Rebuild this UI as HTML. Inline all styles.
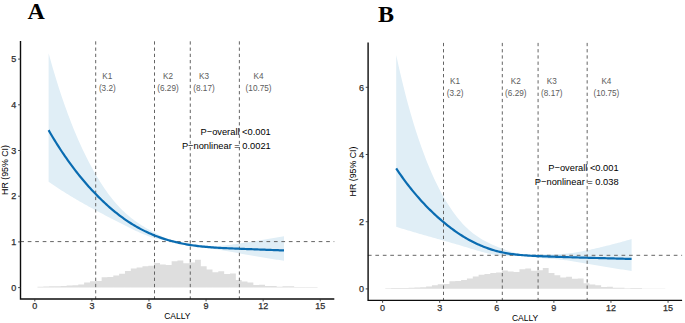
<!DOCTYPE html>
<html><head><meta charset="utf-8"><style>
html,body{margin:0;padding:0;background:#fff;}
svg{display:block;}
text{font-family:"Liberation Sans",sans-serif;}
.tl{font-size:9.0px;fill:#2e2e2e;stroke:#2e2e2e;stroke-width:0.25px;}
.at{font-size:8.5px;fill:#000;}
.kl{font-size:8.2px;fill:#5c5c5c;}
.yt{font-size:8.8px;fill:#000;}
.pt{font-size:9.3px;fill:#000;}
.lt{font-family:"Liberation Serif",serif;font-weight:bold;font-size:24px;fill:#000;}
</style></head><body>
<svg width="685" height="323" viewBox="0 0 685 323">
<rect width="685" height="323" fill="#fff"/>
<path d="M37.44 287.40h5.835v-0.70h-5.835zM43.28 287.40h5.835v-1.00h-5.835zM49.11 287.40h5.835v-1.10h-5.835zM54.95 287.40h5.835v-1.20h-5.835zM60.78 287.40h5.835v-1.30h-5.835zM66.62 287.40h5.835v-1.90h-5.835zM72.45 287.40h5.835v-2.20h-5.835zM78.29 287.40h5.835v-3.00h-5.835zM84.12 287.40h5.835v-4.90h-5.835zM89.96 287.40h5.835v-6.20h-5.835zM95.79 287.40h5.835v-6.30h-5.835zM101.63 287.40h5.835v-10.20h-5.835zM107.46 287.40h5.835v-10.50h-5.835zM113.30 287.40h5.835v-11.80h-5.835zM119.13 287.40h5.835v-13.70h-5.835zM124.97 287.40h5.835v-16.40h-5.835zM130.81 287.40h5.835v-18.90h-5.835zM136.64 287.40h5.835v-19.90h-5.835zM142.47 287.40h5.835v-21.10h-5.835zM148.31 287.40h5.835v-21.70h-5.835zM154.14 287.40h5.835v-24.40h-5.835zM159.98 287.40h5.835v-23.00h-5.835zM165.81 287.40h5.835v-22.40h-5.835zM171.65 287.40h5.835v-26.10h-5.835zM177.48 287.40h5.835v-27.00h-5.835zM183.32 287.40h5.835v-24.20h-5.835zM189.16 287.40h5.835v-24.80h-5.835zM194.99 287.40h5.835v-27.70h-5.835zM200.82 287.40h5.835v-21.10h-5.835zM206.66 287.40h5.835v-18.00h-5.835zM212.50 287.40h5.835v-15.20h-5.835zM218.33 287.40h5.835v-16.20h-5.835zM224.16 287.40h5.835v-13.40h-5.835zM230.00 287.40h5.835v-13.90h-5.835zM235.83 287.40h5.835v-7.40h-5.835zM241.67 287.40h5.835v-5.90h-5.835zM247.50 287.40h5.835v-4.80h-5.835zM253.34 287.40h5.835v-2.30h-5.835zM259.17 287.40h5.835v-2.60h-5.835zM265.01 287.40h5.835v-1.50h-5.835zM270.85 287.40h5.835v-1.50h-5.835zM276.68 287.40h5.835v-0.70h-5.835zM282.51 287.40h5.835v-1.10h-5.835zM288.35 287.40h5.835v-1.10h-5.835zM294.19 287.40h5.835v-0.40h-5.835zM300.02 287.40h5.835v-0.40h-5.835zM305.86 287.40h5.835v-0.40h-5.835zM311.69 287.40h5.835v-0.40h-5.835z" fill="#dedede"/>
<path d="M48.60 53.19 L50.08 58.55 L51.56 63.78 L53.04 68.88 L54.52 73.87 L56.00 78.75 L57.48 83.51 L58.96 88.16 L60.44 92.71 L61.92 97.15 L63.41 101.48 L64.89 105.72 L66.37 109.86 L67.85 113.90 L69.33 117.84 L70.81 121.70 L72.29 125.46 L73.77 129.14 L75.25 132.73 L76.73 136.24 L78.21 139.66 L79.69 143.01 L81.17 146.27 L82.65 149.46 L84.13 152.57 L85.61 155.61 L87.09 158.58 L88.57 161.48 L90.05 164.30 L91.53 167.06 L93.02 169.75 L94.50 172.38 L95.98 174.94 L97.46 177.44 L98.94 179.87 L100.42 182.24 L101.90 184.55 L103.38 186.79 L104.86 188.97 L106.34 191.09 L107.82 193.14 L109.30 195.14 L110.78 197.07 L112.26 198.94 L113.74 200.74 L115.22 202.49 L116.70 204.19 L118.18 205.82 L119.66 207.40 L121.14 208.92 L122.63 210.39 L124.11 211.81 L125.59 213.17 L127.07 214.49 L128.55 215.76 L130.03 216.98 L131.51 218.17 L132.99 219.31 L134.47 220.41 L135.95 221.48 L137.43 222.51 L138.91 223.52 L140.39 224.49 L141.87 225.43 L143.35 226.35 L144.83 227.25 L146.31 228.13 L147.79 228.98 L149.27 229.82 L150.75 230.64 L152.24 231.45 L153.72 232.24 L155.20 233.02 L156.68 233.79 L158.16 234.55 L159.64 235.29 L161.12 236.01 L162.60 236.72 L164.08 237.42 L165.56 238.09 L167.04 238.75 L168.52 239.39 L170.00 240.01 L171.48 240.61 L172.96 241.19 L174.44 241.75 L175.92 242.03 L177.40 242.21 L178.88 242.38 L180.36 242.55 L181.85 242.72 L183.33 242.88 L184.81 243.05 L186.29 243.22 L187.77 243.39 L189.25 243.56 L190.73 243.74 L192.21 243.92 L193.69 244.11 L195.17 244.30 L196.65 244.49 L198.13 244.68 L199.61 244.87 L201.09 245.05 L202.57 245.23 L204.05 245.40 L205.53 245.55 L207.01 245.69 L208.49 245.80 L209.97 245.89 L211.46 245.96 L212.94 245.99 L214.42 246.00 L215.90 245.98 L217.38 245.94 L218.86 245.88 L220.34 245.79 L221.82 245.69 L223.30 245.57 L224.78 245.43 L226.26 245.28 L227.74 245.12 L229.22 244.94 L230.70 244.76 L232.18 244.57 L233.66 244.37 L235.14 244.16 L236.62 243.95 L238.10 243.74 L239.58 243.52 L241.07 243.30 L242.55 243.08 L244.03 242.85 L245.51 242.63 L246.99 242.40 L248.47 242.17 L249.95 241.93 L251.43 241.70 L252.91 241.46 L254.39 241.23 L255.87 240.99 L257.35 240.75 L258.83 240.50 L260.31 240.26 L261.79 240.02 L263.27 239.77 L264.75 239.52 L266.23 239.27 L267.71 239.02 L269.19 238.77 L270.68 238.51 L272.16 238.26 L273.64 238.00 L275.12 237.74 L276.60 237.48 L278.08 237.22 L279.56 236.96 L281.04 236.69 L282.52 236.43 L284.00 236.16 L284.00 260.76 L282.52 260.54 L281.04 260.32 L279.56 260.09 L278.08 259.87 L276.60 259.64 L275.12 259.41 L273.64 259.18 L272.16 258.95 L270.68 258.71 L269.19 258.48 L267.71 258.24 L266.23 258.00 L264.75 257.75 L263.27 257.51 L261.79 257.27 L260.31 257.02 L258.83 256.77 L257.35 256.52 L255.87 256.26 L254.39 256.01 L252.91 255.75 L251.43 255.49 L249.95 255.23 L248.47 254.97 L246.99 254.71 L245.51 254.44 L244.03 254.18 L242.55 253.91 L241.07 253.64 L239.58 253.37 L238.10 253.09 L236.62 252.82 L235.14 252.55 L233.66 252.27 L232.18 252.00 L230.70 251.73 L229.22 251.46 L227.74 251.19 L226.26 250.92 L224.78 250.66 L223.30 250.40 L221.82 250.15 L220.34 249.90 L218.86 249.66 L217.38 249.43 L215.90 249.22 L214.42 249.01 L212.94 248.82 L211.46 248.65 L209.97 248.49 L208.49 248.34 L207.01 248.20 L205.53 248.07 L204.05 247.94 L202.57 247.81 L201.09 247.68 L199.61 247.53 L198.13 247.37 L196.65 247.20 L195.17 247.01 L193.69 246.80 L192.21 246.56 L190.73 246.31 L189.25 246.02 L187.77 245.71 L186.29 245.37 L184.81 245.00 L183.33 244.61 L181.85 244.20 L180.36 243.76 L178.88 243.29 L177.40 242.80 L175.92 242.29 L174.44 241.85 L172.96 241.66 L171.48 241.46 L170.00 241.25 L168.52 241.03 L167.04 240.79 L165.56 240.54 L164.08 240.28 L162.60 239.99 L161.12 239.69 L159.64 239.37 L158.16 239.02 L156.68 238.65 L155.20 238.25 L153.72 237.83 L152.24 237.38 L150.75 236.91 L149.27 236.40 L147.79 235.88 L146.31 235.33 L144.83 234.75 L143.35 234.16 L141.87 233.55 L140.39 232.91 L138.91 232.26 L137.43 231.59 L135.95 230.91 L134.47 230.22 L132.99 229.51 L131.51 228.79 L130.03 228.06 L128.55 227.33 L127.07 226.59 L125.59 225.84 L124.11 225.09 L122.63 224.34 L121.14 223.58 L119.66 222.82 L118.18 222.06 L116.70 221.29 L115.22 220.53 L113.74 219.76 L112.26 218.99 L110.78 218.22 L109.30 217.45 L107.82 216.68 L106.34 215.91 L104.86 215.13 L103.38 214.35 L101.90 213.58 L100.42 212.79 L98.94 212.01 L97.46 211.22 L95.98 210.43 L94.50 209.63 L93.02 208.83 L91.53 208.03 L90.05 207.22 L88.57 206.40 L87.09 205.58 L85.61 204.76 L84.13 203.93 L82.65 203.09 L81.17 202.25 L79.69 201.40 L78.21 200.55 L76.73 199.68 L75.25 198.81 L73.77 197.94 L72.29 197.06 L70.81 196.17 L69.33 195.27 L67.85 194.36 L66.37 193.45 L64.89 192.53 L63.41 191.60 L61.92 190.66 L60.44 189.72 L58.96 188.77 L57.48 187.80 L56.00 186.83 L54.52 185.86 L53.04 184.87 L51.56 183.87 L50.08 182.87 L48.60 181.85Z" fill="#e0eef6"/>
<path d="M95.70 41.30V299.00M154.50 41.30V299.00M190.28 41.30V299.00M239.37 41.30V299.00" stroke="#646464" stroke-width="1.0" stroke-dasharray="3.3 2.92" fill="none"/>
<path d="M20.30 241.60H334.30" stroke="#646464" stroke-width="1.0" stroke-dasharray="3.7 3.76" fill="none"/>
<path d="M48.60 130.16 L50.08 132.71 L51.56 135.23 L53.04 137.70 L54.52 140.14 L56.00 142.53 L57.48 144.89 L58.96 147.20 L60.44 149.48 L61.92 151.73 L63.41 153.93 L64.89 156.10 L66.37 158.24 L67.85 160.34 L69.33 162.40 L70.81 164.44 L72.29 166.44 L73.77 168.40 L75.25 170.34 L76.73 172.24 L78.21 174.12 L79.69 175.96 L81.17 177.77 L82.65 179.56 L84.13 181.31 L85.61 183.04 L87.09 184.73 L88.57 186.40 L90.05 188.05 L91.53 189.66 L93.02 191.25 L94.50 192.82 L95.98 194.36 L97.46 195.87 L98.94 197.36 L100.42 198.82 L101.90 200.26 L103.38 201.67 L104.86 203.06 L106.34 204.42 L107.82 205.75 L109.30 207.06 L110.78 208.35 L112.26 209.61 L113.74 210.84 L115.22 212.05 L116.70 213.23 L118.18 214.39 L119.66 215.52 L121.14 216.63 L122.63 217.71 L124.11 218.77 L125.59 219.80 L127.07 220.81 L128.55 221.80 L130.03 222.76 L131.51 223.70 L132.99 224.61 L134.47 225.51 L135.95 226.38 L137.43 227.22 L138.91 228.05 L140.39 228.85 L141.87 229.63 L143.35 230.39 L144.83 231.13 L146.31 231.84 L147.79 232.54 L149.27 233.21 L150.75 233.87 L152.24 234.50 L153.72 235.11 L155.20 235.71 L156.68 236.28 L158.16 236.83 L159.64 237.37 L161.12 237.89 L162.60 238.39 L164.08 238.87 L165.56 239.33 L167.04 239.78 L168.52 240.22 L170.00 240.64 L171.48 241.04 L172.96 241.43 L174.44 241.80 L175.92 242.16 L177.40 242.51 L178.88 242.84 L180.36 243.16 L181.85 243.46 L183.33 243.76 L184.81 244.04 L186.29 244.31 L187.77 244.56 L189.25 244.81 L190.73 245.04 L192.21 245.26 L193.69 245.48 L195.17 245.68 L196.65 245.87 L198.13 246.05 L199.61 246.22 L201.09 246.39 L202.57 246.54 L204.05 246.69 L205.53 246.83 L207.01 246.96 L208.49 247.09 L209.97 247.21 L211.46 247.32 L212.94 247.43 L214.42 247.54 L215.90 247.63 L217.38 247.73 L218.86 247.81 L220.34 247.90 L221.82 247.98 L223.30 248.06 L224.78 248.13 L226.26 248.20 L227.74 248.27 L229.22 248.33 L230.70 248.40 L232.18 248.46 L233.66 248.52 L235.14 248.58 L236.62 248.64 L238.10 248.70 L239.58 248.75 L241.07 248.81 L242.55 248.87 L244.03 248.93 L245.51 248.98 L246.99 249.04 L248.47 249.10 L249.95 249.15 L251.43 249.21 L252.91 249.27 L254.39 249.32 L255.87 249.38 L257.35 249.44 L258.83 249.49 L260.31 249.55 L261.79 249.61 L263.27 249.66 L264.75 249.72 L266.23 249.78 L267.71 249.83 L269.19 249.89 L270.68 249.94 L272.16 250.00 L273.64 250.05 L275.12 250.11 L276.60 250.17 L278.08 250.22 L279.56 250.28 L281.04 250.33 L282.52 250.39 L284.00 250.44" stroke="#0a6cb1" stroke-width="2.2" fill="none" stroke-linejoin="round"/>
<path d="M20.50 41.00V299.00M19.80 299.00H334.30" stroke="#0d0d0d" stroke-width="1.4" fill="none"/>
<path d="M18.10 287.60H20.50M18.10 241.90H20.50M18.10 196.20H20.50M18.10 150.50H20.50M18.10 104.80H20.50M18.10 59.10H20.50M34.80 299.00V301.40M91.89 299.00V301.40M148.98 299.00V301.40M206.07 299.00V301.40M263.16 299.00V301.40M320.25 299.00V301.40" stroke="#333333" stroke-width="0.9" fill="none"/>
<text x="16.30" y="290.80" text-anchor="end" class="tl">0</text>
<text x="16.30" y="245.10" text-anchor="end" class="tl">1</text>
<text x="16.30" y="199.40" text-anchor="end" class="tl">2</text>
<text x="16.30" y="153.70" text-anchor="end" class="tl">3</text>
<text x="16.30" y="108.00" text-anchor="end" class="tl">4</text>
<text x="16.30" y="62.30" text-anchor="end" class="tl">5</text>
<text x="34.80" y="309.20" text-anchor="middle" class="tl">0</text>
<text x="91.89" y="309.20" text-anchor="middle" class="tl">3</text>
<text x="148.98" y="309.20" text-anchor="middle" class="tl">6</text>
<text x="206.07" y="309.20" text-anchor="middle" class="tl">9</text>
<text x="263.16" y="309.20" text-anchor="middle" class="tl">12</text>
<text x="320.25" y="309.20" text-anchor="middle" class="tl">15</text>
<text x="177.40" y="319.20" text-anchor="middle" class="at">CALLY</text>
<text transform="translate(8.00 170.00) rotate(-90)" text-anchor="middle" class="yt">HR (95% CI)</text>
<text x="107.30" y="78.80" text-anchor="middle" class="kl">K1</text>
<text x="107.30" y="90.80" text-anchor="middle" class="kl">(3.2)</text>
<text x="168.01" y="78.80" text-anchor="middle" class="kl">K2</text>
<text x="168.01" y="90.80" text-anchor="middle" class="kl">(6.29)</text>
<text x="203.98" y="78.80" text-anchor="middle" class="kl">K3</text>
<text x="203.98" y="90.80" text-anchor="middle" class="kl">(8.17)</text>
<text x="258.59" y="78.80" text-anchor="middle" class="kl">K4</text>
<text x="258.59" y="90.80" text-anchor="middle" class="kl">(10.75)</text>
<text x="270.80" y="135.30" text-anchor="end" class="pt">P−overall &lt;0.001</text>
<text x="270.80" y="148.80" text-anchor="end" class="pt">P−nonlinear = 0.0021</text>
<text x="27.50" y="19.30" class="lt">A</text>
<path d="M385.25 288.80h5.835v-0.52h-5.835zM391.08 288.80h5.835v-0.75h-5.835zM396.92 288.80h5.835v-0.82h-5.835zM402.75 288.80h5.835v-0.90h-5.835zM408.58 288.80h5.835v-0.98h-5.835zM414.42 288.80h5.835v-1.42h-5.835zM420.25 288.80h5.835v-1.65h-5.835zM426.09 288.80h5.835v-2.25h-5.835zM431.93 288.80h5.835v-3.67h-5.835zM437.76 288.80h5.835v-4.65h-5.835zM443.60 288.80h5.835v-4.73h-5.835zM449.43 288.80h5.835v-7.65h-5.835zM455.26 288.80h5.835v-7.88h-5.835zM461.10 288.80h5.835v-8.85h-5.835zM466.94 288.80h5.835v-10.27h-5.835zM472.77 288.80h5.835v-12.30h-5.835zM478.61 288.80h5.835v-14.17h-5.835zM484.44 288.80h5.835v-14.92h-5.835zM490.27 288.80h5.835v-15.82h-5.835zM496.11 288.80h5.835v-16.27h-5.835zM501.94 288.80h5.835v-18.30h-5.835zM507.78 288.80h5.835v-17.25h-5.835zM513.62 288.80h5.835v-16.80h-5.835zM519.45 288.80h5.835v-19.57h-5.835zM525.28 288.80h5.835v-20.25h-5.835zM531.12 288.80h5.835v-18.15h-5.835zM536.96 288.80h5.835v-18.60h-5.835zM542.79 288.80h5.835v-20.77h-5.835zM548.62 288.80h5.835v-15.82h-5.835zM554.46 288.80h5.835v-13.50h-5.835zM560.30 288.80h5.835v-11.40h-5.835zM566.13 288.80h5.835v-12.15h-5.835zM571.97 288.80h5.835v-10.05h-5.835zM577.80 288.80h5.835v-10.42h-5.835zM583.63 288.80h5.835v-5.55h-5.835zM589.47 288.80h5.835v-4.42h-5.835zM595.31 288.80h5.835v-3.60h-5.835zM601.14 288.80h5.835v-1.73h-5.835zM606.98 288.80h5.835v-1.95h-5.835zM612.81 288.80h5.835v-1.12h-5.835zM618.64 288.80h5.835v-1.12h-5.835zM624.48 288.80h5.835v-0.52h-5.835zM630.32 288.80h5.835v-0.82h-5.835zM636.15 288.80h5.835v-0.82h-5.835zM641.99 288.80h5.835v-0.30h-5.835zM647.82 288.80h5.835v-0.30h-5.835zM653.65 288.80h5.835v-0.30h-5.835zM659.49 288.80h5.835v-0.30h-5.835z" fill="#dedede"/>
<path d="M396.20 55.02 L397.68 61.83 L399.16 68.44 L400.64 74.85 L402.12 81.07 L403.60 87.11 L405.08 92.97 L406.56 98.66 L408.04 104.18 L409.52 109.53 L411.01 114.73 L412.49 119.77 L413.97 124.66 L415.45 129.41 L416.93 134.02 L418.41 138.48 L419.89 142.82 L421.37 147.03 L422.85 151.11 L424.33 155.07 L425.81 158.91 L427.29 162.63 L428.77 166.25 L430.25 169.75 L431.73 173.15 L433.21 176.44 L434.69 179.64 L436.17 182.74 L437.65 185.74 L439.13 188.65 L440.62 191.47 L442.10 194.20 L443.58 196.85 L445.06 199.41 L446.54 201.89 L448.02 204.29 L449.50 206.61 L450.98 208.84 L452.46 210.99 L453.94 213.06 L455.42 215.06 L456.90 216.98 L458.38 218.82 L459.86 220.58 L461.34 222.28 L462.82 223.90 L464.30 225.45 L465.78 226.93 L467.26 228.35 L468.74 229.71 L470.23 231.00 L471.71 232.23 L473.19 233.41 L474.67 234.53 L476.15 235.60 L477.63 236.62 L479.11 237.59 L480.59 238.52 L482.07 239.41 L483.55 240.26 L485.03 241.07 L486.51 241.85 L487.99 242.60 L489.47 243.32 L490.95 244.01 L492.43 244.68 L493.91 245.32 L495.39 245.95 L496.87 246.56 L498.35 247.15 L499.84 247.72 L501.32 248.28 L502.80 248.83 L504.28 249.36 L505.76 249.89 L507.24 250.40 L508.72 250.90 L510.20 251.38 L511.68 251.86 L513.16 252.31 L514.64 252.76 L516.12 253.19 L517.60 253.61 L519.08 254.01 L520.56 254.40 L522.04 254.77 L523.52 255.12 L525.00 255.24 L526.48 255.12 L527.96 255.00 L529.45 254.89 L530.93 254.78 L532.41 254.67 L533.89 254.58 L535.37 254.49 L536.85 254.41 L538.33 254.35 L539.81 254.31 L541.29 254.27 L542.77 254.25 L544.25 254.24 L545.73 254.23 L547.21 254.23 L548.69 254.23 L550.17 254.23 L551.65 254.22 L553.13 254.22 L554.61 254.20 L556.09 254.18 L557.57 254.14 L559.06 254.09 L560.54 254.02 L562.02 253.94 L563.50 253.84 L564.98 253.73 L566.46 253.59 L567.94 253.44 L569.42 253.28 L570.90 253.09 L572.38 252.90 L573.86 252.68 L575.34 252.46 L576.82 252.22 L578.30 251.97 L579.78 251.71 L581.26 251.43 L582.74 251.15 L584.22 250.86 L585.70 250.56 L587.18 250.26 L588.67 249.95 L590.15 249.64 L591.63 249.32 L593.11 248.99 L594.59 248.66 L596.07 248.33 L597.55 247.99 L599.03 247.64 L600.51 247.30 L601.99 246.95 L603.47 246.59 L604.95 246.23 L606.43 245.87 L607.91 245.50 L609.39 245.13 L610.87 244.75 L612.35 244.37 L613.83 243.99 L615.31 243.60 L616.79 243.21 L618.28 242.81 L619.76 242.41 L621.24 242.01 L622.72 241.60 L624.20 241.19 L625.68 240.77 L627.16 240.36 L628.64 239.93 L630.12 239.50 L631.60 239.07 L631.60 270.89 L630.12 270.68 L628.64 270.47 L627.16 270.26 L625.68 270.05 L624.20 269.84 L622.72 269.62 L621.24 269.40 L619.76 269.18 L618.28 268.96 L616.79 268.73 L615.31 268.50 L613.83 268.27 L612.35 268.04 L610.87 267.81 L609.39 267.57 L607.91 267.33 L606.43 267.09 L604.95 266.85 L603.47 266.60 L601.99 266.35 L600.51 266.10 L599.03 265.85 L597.55 265.59 L596.07 265.34 L594.59 265.08 L593.11 264.82 L591.63 264.56 L590.15 264.29 L588.67 264.03 L587.18 263.77 L585.70 263.50 L584.22 263.23 L582.74 262.97 L581.26 262.70 L579.78 262.44 L578.30 262.18 L576.82 261.93 L575.34 261.68 L573.86 261.43 L572.38 261.19 L570.90 260.96 L569.42 260.74 L567.94 260.53 L566.46 260.33 L564.98 260.14 L563.50 259.96 L562.02 259.79 L560.54 259.63 L559.06 259.48 L557.57 259.35 L556.09 259.22 L554.61 259.11 L553.13 258.99 L551.65 258.89 L550.17 258.78 L548.69 258.68 L547.21 258.57 L545.73 258.45 L544.25 258.33 L542.77 258.21 L541.29 258.07 L539.81 257.91 L538.33 257.75 L536.85 257.56 L535.37 257.36 L533.89 257.14 L532.41 256.90 L530.93 256.65 L529.45 256.38 L527.96 256.09 L526.48 255.78 L525.00 255.46 L523.52 255.36 L522.04 255.48 L520.56 255.59 L519.08 255.69 L517.60 255.78 L516.12 255.87 L514.64 255.94 L513.16 255.99 L511.68 256.03 L510.20 256.05 L508.72 256.05 L507.24 256.03 L505.76 255.99 L504.28 255.92 L502.80 255.82 L501.32 255.69 L499.84 255.54 L498.35 255.36 L496.87 255.15 L495.39 254.92 L493.91 254.66 L492.43 254.38 L490.95 254.08 L489.47 253.76 L487.99 253.42 L486.51 253.06 L485.03 252.69 L483.55 252.30 L482.07 251.90 L480.59 251.49 L479.11 251.07 L477.63 250.65 L476.15 250.21 L474.67 249.77 L473.19 249.33 L471.71 248.89 L470.23 248.44 L468.74 247.99 L467.26 247.54 L465.78 247.09 L464.30 246.64 L462.82 246.20 L461.34 245.75 L459.86 245.31 L458.38 244.87 L456.90 244.43 L455.42 244.00 L453.94 243.56 L452.46 243.13 L450.98 242.70 L449.50 242.28 L448.02 241.85 L446.54 241.43 L445.06 241.01 L443.58 240.59 L442.10 240.17 L440.62 239.75 L439.13 239.33 L437.65 238.92 L436.17 238.50 L434.69 238.09 L433.21 237.67 L431.73 237.26 L430.25 236.84 L428.77 236.42 L427.29 236.00 L425.81 235.58 L424.33 235.16 L422.85 234.74 L421.37 234.32 L419.89 233.89 L418.41 233.47 L416.93 233.04 L415.45 232.61 L413.97 232.18 L412.49 231.74 L411.01 231.31 L409.52 230.87 L408.04 230.43 L406.56 229.99 L405.08 229.54 L403.60 229.10 L402.12 228.65 L400.64 228.20 L399.16 227.74 L397.68 227.28 L396.20 226.83Z" fill="#e0eef6"/>
<path d="M443.50 42.90V300.40M502.30 42.90V300.40M538.08 42.90V300.40M587.17 42.90V300.40" stroke="#646464" stroke-width="1.0" stroke-dasharray="3.3 2.92" fill="none"/>
<path d="M367.90 255.30H682.10" stroke="#646464" stroke-width="1.0" stroke-dasharray="3.7 3.76" fill="none"/>
<path d="M396.20 168.41 L397.68 170.62 L399.16 172.78 L400.64 174.91 L402.12 177.00 L403.60 179.05 L405.08 181.06 L406.56 183.04 L408.04 184.97 L409.52 186.88 L411.01 188.75 L412.49 190.58 L413.97 192.38 L415.45 194.15 L416.93 195.88 L418.41 197.59 L419.89 199.26 L421.37 200.90 L422.85 202.51 L424.33 204.10 L425.81 205.65 L427.29 207.17 L428.77 208.67 L430.25 210.14 L431.73 211.58 L433.21 213.00 L434.69 214.39 L436.17 215.75 L437.65 217.09 L439.13 218.41 L440.62 219.70 L442.10 220.97 L443.58 222.21 L445.06 223.43 L446.54 224.63 L448.02 225.81 L449.50 226.96 L450.98 228.08 L452.46 229.19 L453.94 230.26 L455.42 231.32 L456.90 232.35 L458.38 233.35 L459.86 234.33 L461.34 235.28 L462.82 236.21 L464.30 237.12 L465.78 238.00 L467.26 238.86 L468.74 239.69 L470.23 240.50 L471.71 241.28 L473.19 242.04 L474.67 242.78 L476.15 243.49 L477.63 244.18 L479.11 244.85 L480.59 245.49 L482.07 246.11 L483.55 246.71 L485.03 247.28 L486.51 247.84 L487.99 248.37 L489.47 248.88 L490.95 249.36 L492.43 249.83 L493.91 250.27 L495.39 250.69 L496.87 251.10 L498.35 251.48 L499.84 251.84 L501.32 252.17 L502.80 252.49 L504.28 252.79 L505.76 253.07 L507.24 253.33 L508.72 253.57 L510.20 253.79 L511.68 254.01 L513.16 254.20 L514.64 254.38 L516.12 254.55 L517.60 254.71 L519.08 254.86 L520.56 255.00 L522.04 255.12 L523.52 255.24 L525.00 255.35 L526.48 255.46 L527.96 255.55 L529.45 255.64 L530.93 255.73 L532.41 255.81 L533.89 255.88 L535.37 255.96 L536.85 256.03 L538.33 256.09 L539.81 256.16 L541.29 256.22 L542.77 256.29 L544.25 256.35 L545.73 256.41 L547.21 256.47 L548.69 256.53 L550.17 256.58 L551.65 256.64 L553.13 256.69 L554.61 256.75 L556.09 256.80 L557.57 256.85 L559.06 256.90 L560.54 256.95 L562.02 257.00 L563.50 257.05 L564.98 257.09 L566.46 257.14 L567.94 257.18 L569.42 257.23 L570.90 257.27 L572.38 257.32 L573.86 257.36 L575.34 257.40 L576.82 257.45 L578.30 257.49 L579.78 257.53 L581.26 257.57 L582.74 257.61 L584.22 257.65 L585.70 257.70 L587.18 257.74 L588.67 257.78 L590.15 257.82 L591.63 257.86 L593.11 257.90 L594.59 257.94 L596.07 257.98 L597.55 258.02 L599.03 258.06 L600.51 258.10 L601.99 258.14 L603.47 258.18 L604.95 258.22 L606.43 258.26 L607.91 258.30 L609.39 258.34 L610.87 258.38 L612.35 258.42 L613.83 258.46 L615.31 258.50 L616.79 258.54 L618.28 258.58 L619.76 258.62 L621.24 258.66 L622.72 258.70 L624.20 258.74 L625.68 258.78 L627.16 258.82 L628.64 258.86 L630.12 258.90 L631.60 258.94" stroke="#0a6cb1" stroke-width="2.2" fill="none" stroke-linejoin="round"/>
<path d="M368.10 42.60V300.40M367.40 300.40H682.10" stroke="#0d0d0d" stroke-width="1.4" fill="none"/>
<path d="M365.70 288.90H368.10M365.70 221.70H368.10M365.70 154.50H368.10M365.70 87.30H368.10M382.60 300.40V302.80M439.69 300.40V302.80M496.78 300.40V302.80M553.87 300.40V302.80M610.96 300.40V302.80M668.05 300.40V302.80" stroke="#333333" stroke-width="0.9" fill="none"/>
<text x="363.90" y="292.10" text-anchor="end" class="tl">0</text>
<text x="363.90" y="224.90" text-anchor="end" class="tl">2</text>
<text x="363.90" y="157.70" text-anchor="end" class="tl">4</text>
<text x="363.90" y="90.50" text-anchor="end" class="tl">6</text>
<text x="382.60" y="310.60" text-anchor="middle" class="tl">0</text>
<text x="439.69" y="310.60" text-anchor="middle" class="tl">3</text>
<text x="496.78" y="310.60" text-anchor="middle" class="tl">6</text>
<text x="553.87" y="310.60" text-anchor="middle" class="tl">9</text>
<text x="610.96" y="310.60" text-anchor="middle" class="tl">12</text>
<text x="668.05" y="310.60" text-anchor="middle" class="tl">15</text>
<text x="525.10" y="320.60" text-anchor="middle" class="at">CALLY</text>
<text transform="translate(355.80 171.50) rotate(-90)" text-anchor="middle" class="yt">HR (95% CI)</text>
<text x="455.10" y="84.00" text-anchor="middle" class="kl">K1</text>
<text x="455.10" y="96.00" text-anchor="middle" class="kl">(3.2)</text>
<text x="515.81" y="84.00" text-anchor="middle" class="kl">K2</text>
<text x="515.81" y="96.00" text-anchor="middle" class="kl">(6.29)</text>
<text x="551.78" y="84.00" text-anchor="middle" class="kl">K3</text>
<text x="551.78" y="96.00" text-anchor="middle" class="kl">(8.17)</text>
<text x="606.39" y="84.00" text-anchor="middle" class="kl">K4</text>
<text x="606.39" y="96.00" text-anchor="middle" class="kl">(10.75)</text>
<text x="618.60" y="171.40" text-anchor="end" class="pt">P−overall &lt;0.001</text>
<text x="618.60" y="184.90" text-anchor="end" class="pt">P−nonlinear = 0.038</text>
<text x="378.00" y="22.30" class="lt">B</text>
</svg>
</body></html>
